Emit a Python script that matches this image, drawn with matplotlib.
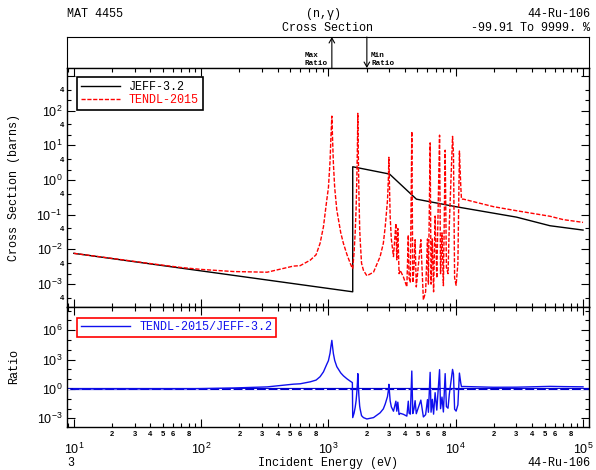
import numpy as np
import matplotlib
matplotlib.use("Agg")
import matplotlib.pyplot as plt
from matplotlib.ticker import FixedLocator, FuncFormatter, NullFormatter
from matplotlib.lines import Line2D

# JEFF-3.2 (n,g) for Ru-106
jeff_e = [10, 1552, 1552, 3020, 4910, 10000, 30000, 55000, 100000]
jeff_xs = [7.7e-3, 6.0e-4, 2.4, 1.48, 0.28, 0.17, 0.085, 0.048, 0.036]

# TENDL-2015
tendl_e = [10, 20, 40, 70, 100, 180, 330, 530, 600, 720, 800, 860, 914, 970, 1000,
           1030, 1045, 1064, 1080, 1094, 1120, 1164, 1250, 1312, 1400, 1483, 1542,
           1552, 1590, 1622, 1650, 1671, 1690, 1702, 1715, 1734, 1760, 1774, 1820,
           1884, 2004, 2260, 2547, 2700, 2793, 2911, 2960, 2985, 3010, 3055, 3120,
           3243, 3388, 3443, 3508, 3589, 3664, 3882, 4130, 4240, 4300, 4400, 4518,
           4600, 4700, 4797, 4900, 5321, 5570, 5800, 6000, 6100, 6295, 6400, 6550,
           6700, 6887, 7100, 7464, 7600, 7800, 8000, 8260, 8450, 8700, 8900, 9441,
           9600, 9800, 10070, 10400, 10690, 10960, 11100, 11500, 19800, 30000,
           55000, 70000, 100000]
tendl_xs = [7.7e-3, 5.5e-3, 3.9e-3, 3.0e-3, 2.65e-3, 2.3e-3, 2.2e-3, 3.3e-3, 3.4e-3,
            4.9e-3, 7e-3, 1.5e-2, 0.045, 0.26, 0.6, 3.5, 15, 69, 12, 3.0, 0.6, 0.135,
            0.03, 0.0148, 7e-3, 4.0e-3, 2.8e-3, 2.85e-3, 8e-3, 0.03, 0.15, 1.0, 10,
            83, 8, 0.5, 0.04, 0.02, 4e-3, 2.5e-3, 1.74e-3, 2.2e-3, 6.2e-3, 0.015,
            0.045, 0.26, 1.2, 4.5, 1.0, 0.087, 0.02, 6.2e-3, 0.056, 5e-3, 0.04,
            2.0e-3, 2.5e-3, 1.6e-3, 8.3e-4, 0.026, 1.5e-3, 1.1e-3, 25, 1.1e-3, 3e-3,
            0.019, 8.3e-4, 0.019, 3.5e-4, 6e-4, 0.02, 1e-3, 11.7, 1e-3, 0.02, 6e-4,
            0.091, 1.5e-3, 19.5, 2e-3, 0.03, 9e-4, 7.2, 3e-3, 2e-3, 0.05, 18, 5.9,
            1.5e-3, 9.3e-4, 4e-3, 6.8, 0.63, 0.28, 0.28, 0.17, 0.13, 0.09, 0.072, 0.06]

# TENDL-2015/JEFF-3.2 ratio on the same energies
ratio = [1.0, 1.01, 1.01, 1.03, 1.09, 1.27, 1.64, 3.1, 3.4, 5.4, 8.1, 18, 56, 330,
         780, 4600, 2.0e4, 9.2e4, 1.62e4, 4080, 824, 189, 43.5, 22, 10.8, 6.3, 4.5,
         1.2e-3, 3.4e-3, 0.013, 0.065, 0.44, 4.4, 37, 3.6, 0.225, 0.018, 9.2e-3,
         1.9e-3, 1.2e-3, 8.7e-4, 1.2e-3, 3.7e-3, 9.4e-3, 0.029, 0.17, 0.8, 3.0,
         0.68, 0.062, 0.015, 5.4e-3, 0.057, 5.4e-3, 0.045, 2.5e-3, 3.3e-3, 2.6e-3,
         1.7e-3, 0.057, 3.4e-3, 2.7e-3, 68, 3.1e-3, 9.3e-3, 0.064, 3e-3, 0.073,
         1.4e-3, 2.4e-3, 0.083, 4.2e-3, 50, 4.3e-3, 0.088, 2.7e-3, 0.42, 7e-3, 94,
         9.8e-3, 0.15, 4.5e-3, 37, 0.016, 0.011, 0.27, 100, 34, 8.7e-3, 5.5e-3,
         0.024, 42, 3.9, 1.75, 1.8, 1.5, 1.53, 1.85, 1.75, 1.67]

MONO = "Liberation Mono"
SANS = "Liberation Sans"
plt.rcParams["mathtext.default"] = "regular"
plt.rcParams["font.family"] = SANS

W, H = 596, 470
fig = plt.figure(figsize=(W / 100, H / 100), dpi=100)


def box(top, bottom, left=67, right=589):
    # pixel box -> figure fraction
    return [left / W, 1 - bottom / H, (right - left) / W, (bottom - top) / H]


ax_top = fig.add_axes(box(37, 68))
ax = fig.add_axes(box(68, 307))
axr = fig.add_axes(box(307, 427), sharex=ax)

xlim = (8.84, 1.114e5)

# --- max / min ratio box
ax_top.set_xscale("log")
ax_top.set_xlim(*xlim)
ax_top.set_ylim(0, 1)
ax_top.set_xticks([])
ax_top.set_yticks([])
ax_top.minorticks_off()
i_max = int(np.argmax(ratio))
i_min = int(np.argmin(ratio))
e_max, e_min = tendl_e[i_max], tendl_e[i_min]
arr = dict(arrowstyle="->,head_length=0.35,head_width=0.2", lw=0.8, color="black",
           shrinkA=0, shrinkB=0)
ax_top.annotate("", xy=(e_max, 1), xytext=(e_max, 0), arrowprops=arr)
ax_top.annotate("", xy=(e_min, 0), xytext=(e_min, 1), arrowprops=arr)
ax_top.annotate("Max\nRatio", xy=(e_max, 0), xytext=(-3, 1), textcoords="offset points",
                ha="right", va="bottom", fontsize=5.5, fontweight="bold", family=MONO,
                multialignment="left")
ax_top.annotate("Min\nRatio", xy=(e_min, 0), xytext=(3, 1), textcoords="offset points",
                ha="left", va="bottom", fontsize=5.5, fontweight="bold", family=MONO,
                multialignment="left")

# --- cross sections
ax.plot(jeff_e, jeff_xs, color="black", lw=1.0)
ax.plot(tendl_e, tendl_xs, color="red", lw=1.0, dashes=(3, 1.2))
ax.set_xscale("log")
ax.set_yscale("log")
ax.set_xlim(*xlim)
ax.set_ylim(2.19e-4, 1679)

ymaj = [10.0 ** k for k in range(-3, 4)]
ymin = [m * 10.0 ** k for k in range(-4, 3) for m in (2, 4)]
ax.yaxis.set_major_locator(FixedLocator(ymaj))
ax.yaxis.set_minor_locator(FixedLocator(ymin))
ax.yaxis.set_major_formatter(FuncFormatter(
    lambda v, p: "" if v > 500 else "$10^{%d}$" % round(np.log10(v))))
ax.yaxis.set_minor_formatter(FuncFormatter(
    lambda v, p: "4" if abs(v / 10 ** np.floor(np.log10(v)) - 4) < 0.01 else ""))
ax.set_ylabel("Cross Section (barns)", family=MONO, fontsize=8.5)
ax.yaxis.set_label_coords(-0.09, 0.5)

leg = ax.legend(handles=[Line2D([], [], color="black", lw=1.0),
                         Line2D([], [], color="red", lw=1.0, dashes=(3, 1.2))],
                labels=["JEFF-3.2", "TENDL-2015"], loc="upper left",
                bbox_to_anchor=(0.008, 0.985), fancybox=False, edgecolor="black",
                framealpha=1, handlelength=3.3, borderpad=0.3, labelspacing=0.1,
                handletextpad=0.8, prop={"family": MONO, "size": 8.5})
leg.get_frame().set_linewidth(1.2)
leg.get_texts()[1].set_color("red")

# --- ratio
axr.axhline(1, color="#0000cc", lw=1.6)
axr.axhline(1, color="white", lw=0.8, dashes=(2.5, 8))
axr.plot(tendl_e, ratio, color="#1010ee", lw=1.0)
axr.set_yscale("log")
axr.set_ylim(1.32e-4, 2.34e8)
axr.yaxis.set_major_locator(FixedLocator([1e-3, 1, 1e3, 1e6]))
axr.yaxis.set_minor_locator(FixedLocator([10.0 ** k for k in range(-4, 9) if k % 3]))
axr.yaxis.set_major_formatter(FuncFormatter(lambda v, p: "$10^{%d}$" % round(np.log10(v))))
axr.yaxis.set_minor_formatter(NullFormatter())
axr.set_ylabel("Ratio", family=MONO, fontsize=8.5)
axr.yaxis.set_label_coords(-0.09, 0.5)

leg2 = axr.legend(handles=[Line2D([], [], color="#1010ee", lw=1.0)],
                  labels=["TENDL-2015/JEFF-3.2"], loc="upper left",
                  bbox_to_anchor=(0.008, 0.96), fancybox=False, edgecolor="red",
                  framealpha=1, handlelength=4.2, borderpad=0.3, handletextpad=0.8,
                  prop={"family": MONO, "size": 8.5})
leg2.get_frame().set_linewidth(1.2)
leg2.get_texts()[0].set_color("#1010ee")

# --- x axis
xmaj = [10.0 ** k for k in range(1, 6)]
xmin = [m * 10.0 ** k for k in range(0, 5) for m in range(2, 10)]
axr.xaxis.set_major_locator(FixedLocator(xmaj))
axr.xaxis.set_minor_locator(FixedLocator(xmin))
axr.xaxis.set_major_formatter(FuncFormatter(lambda v, p: "$10^{%d}$" % round(np.log10(v))))


def minor_lab(v, p):
    m = int(round(v / 10 ** np.floor(np.log10(v))))
    return str(m) if m in (2, 3, 4, 5, 6, 8) else ""


axr.xaxis.set_minor_formatter(FuncFormatter(minor_lab))

for a in (ax, axr):
    a.tick_params(which="both", direction="in", top=True, right=True, width=0.8)
    a.tick_params(which="major", length=6, labelsize=9)
    a.tick_params(which="minor", length=3)
    for s in a.spines.values():
        s.set_linewidth(1.0)
ax.tick_params(which="both", labelbottom=False)
ax.tick_params(axis="y", which="minor", labelsize=5.5, pad=2)
for t in ax.yaxis.get_minorticklabels():
    t.set_fontweight("bold")
axr.tick_params(axis="x", which="major", pad=11)
axr.tick_params(axis="x", which="minor", labelsize=5.5, pad=3)
for t in axr.xaxis.get_minorticklabels():
    t.set_fontweight("bold")

# --- header / footer text
fig.text(67 / W, 1 - 14 / H, "MAT 4455", family=MONO, fontsize=8.5, va="center")
fig.text(324 / W, 1 - 14 / H, "(n,\u03b3)", family=MONO, fontsize=8.5, va="center", ha="center")
fig.text(328 / W, 1 - 28 / H, "Cross Section", family=MONO, fontsize=8.5, va="center", ha="center")
fig.text(590 / W, 1 - 14 / H, "44-Ru-106", family=MONO, fontsize=8.5, va="center", ha="right")
fig.text(590 / W, 1 - 28 / H, "-99.91 To 9999. %", family=MONO, fontsize=8.5, va="center", ha="right")
fig.text(67 / W, 1 - 463 / H, "3", family=MONO, fontsize=8.5, va="center")
fig.text(328 / W, 1 - 463 / H, "Incident Energy (eV)", family=MONO, fontsize=8.5, va="center", ha="center")
fig.text(590 / W, 1 - 463 / H, "44-Ru-106", family=MONO, fontsize=8.5, va="center", ha="right")

fig.savefig("out.png", dpi=100)
